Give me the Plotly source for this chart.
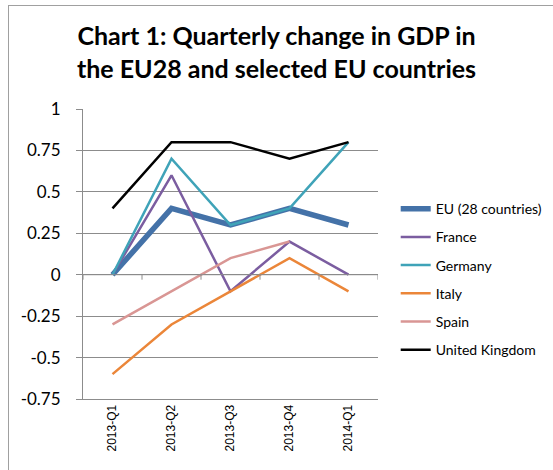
import plotly.graph_objects as go

quarters = ["2013-Q1", "2013-Q2", "2013-Q3", "2013-Q4", "2014-Q1"]
eu = [0.0, 0.4, 0.3, 0.4, 0.3]
france = [0.0, 0.6, -0.1, 0.2, 0.0]
germany = [0.0, 0.7, 0.3, 0.4, 0.8]
italy = [-0.6, -0.3, -0.1, 0.1, -0.1]
spain = [-0.3, -0.1, 0.1, 0.2, None]
uk = [0.4, 0.8, 0.8, 0.7, 0.8]
y_ticks = [-0.75, -0.5, -0.25, 0, 0.25, 0.5, 0.75, 1]
y_tick_text = ["-0.75", "-0.5", "-0.25", "0", "0.25", "0.5", "0.75", "1"]

series = [
    ("EU (28 countries)", eu, "#4472A8", 5.5),
    ("France", france, "#7B5DA0", 2.5),
    ("Germany", germany, "#3FA3B8", 2.5),
    ("Italy", italy, "#EB8639", 2.5),
    ("Spain", spain, "#D99694", 2.5),
    ("United Kingdom", uk, "#000000", 2.5),
]

fig = go.Figure()
for i, (name, vals, color, w) in enumerate(series):
    fig.add_trace(go.Scatter(
        x=quarters, y=vals, name=name, mode="lines",
        line=dict(color=color, width=w),
        legendgroup="g%d" % i,
    ))

W, H = 553, 470
L, R, T, B = 83, 175, 109, 71
pw, ph = W - L - R, H - T - B
grid = "#8C8C8C"
shapes = [
    dict(type="line", xref="paper", yref="y", x0=0, x1=1, y0=0, y1=0,
         line=dict(color=grid, width=1)),
    # frame: top and left border lines
    dict(type="line", xref="paper", yref="paper",
         x0=(8 - L) / pw, x1=(W - L) / pw, y0=1 + (T - 5.5) / ph, y1=1 + (T - 5.5) / ph,
         line=dict(color="#A0A0A0", width=1)),
    dict(type="line", xref="paper", yref="paper",
         x0=(8.5 - L) / pw, x1=(8.5 - L) / pw, y0=1 + (T - 5.5) / ph, y1=-B / ph,
         line=dict(color="#A0A0A0", width=1)),
]
# tick marks on the zero line at category boundaries
for k in range(len(quarters) + 1):
    shapes.append(dict(type="line", xref="x", yref="y", x0=k - 0.5, x1=k - 0.5,
                       y0=0, y1=-0.03, line=dict(color=grid, width=1)))

fig.update_layout(
    width=W, height=H,
    margin=dict(l=L, r=R, t=T, b=B, autoexpand=False),
    paper_bgcolor="white", plot_bgcolor="white",
    title=dict(
        text="<b>Chart 1: Quarterly change in GDP in<br>the EU28 and selected EU countries</b>",
        x=0.5, xanchor="center", xref="container", y=1 - 45/H, yanchor="top",
        yref="container",
        font=dict(family="Lato", size=25, color="black"),
    ),
    xaxis=dict(
        type="category", tickangle=-90, showgrid=False, automargin=False,
        showline=True, linecolor=grid, linewidth=1,
        ticks="", tickfont=dict(family="Liberation Sans", size=12, color="black"),
        range=[-0.5, 4.5],
    ),
    yaxis=dict(
        range=[-0.75, 1], tickvals=y_ticks, ticktext=y_tick_text, automargin=False,
        showgrid=True, gridcolor=grid, gridwidth=1, zeroline=False,
        showline=True, linecolor=grid, linewidth=1,
        ticks="outside", ticklen=6, tickcolor=grid, ticklabelstandoff=12,
        tickfont=dict(family="Lato", size=17, color="black"),
    ),
    legend=dict(
        x=1.06, y=0.71, xanchor="left", yanchor="top",
        font=dict(family="Lato", size=14, color="black"),
        traceorder="grouped", tracegroupgap=7,
        bgcolor="rgba(0,0,0,0)",
    ),
    shapes=shapes,
    showlegend=True,
)

fig.write_html(
    "out.html",
    config={"displayModeBar": False},
    post_script="document.body.style.margin='0';document.body.style.overflow='hidden';",
)
